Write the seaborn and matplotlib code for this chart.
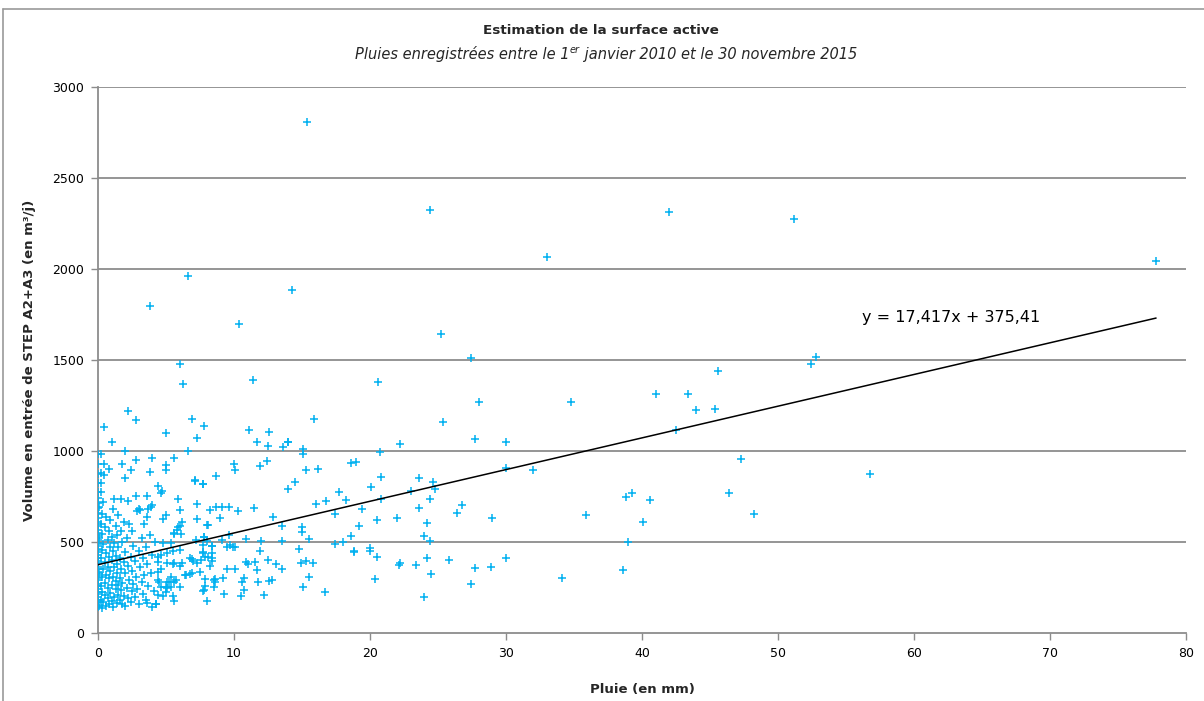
import numpy as np
import pandas as pd
import matplotlib
matplotlib.use("Agg")
import matplotlib.pyplot as plt
import seaborn as sns
from matplotlib.lines import Line2D

# ---------------- data ----------------
# dry days (0 mm)
volume_sec = [143, 152, 168, 181, 197, 214, 226, 243, 258, 271, 289, 302, 318, 333,
              351, 364, 382, 397, 410, 428, 445, 461, 478, 497, 512, 531, 548, 566,
              589, 612, 634, 661, 688, 716, 742, 776, 822, 871, 930, 982]
pluie_sec = [0.0] * len(volume_sec)

# light rain, 0.1 - 1.5 mm
pluie_faible = [0.1, 0.1, 0.1, 0.1, 0.2, 0.2, 0.2, 0.2, 0.2, 0.2, 0.2, 0.2, 0.3, 0.3, 0.3,
                0.3, 0.3, 0.3, 0.4, 0.4, 0.4, 0.4, 0.43, 0.46, 0.46, 0.5, 0.5, 0.5, 0.5,
                0.6, 0.6, 0.6, 0.6, 0.7, 0.7, 0.7, 0.7, 0.8, 0.8, 0.8, 0.8, 0.83, 0.9, 0.9,
                0.9, 0.9, 1.0, 1.0, 1.0, 1.0, 1.05, 1.1, 1.1, 1.1, 1.1, 1.2, 1.2, 1.2, 1.2,
                1.3, 1.3, 1.3, 1.3, 1.4, 1.4, 1.4, 1.4, 1.5, 1.5, 1.5, 1.5]
volume_faible = [150, 330, 520, 690, 180, 260, 410, 600, 822, 776, 877, 984, 140, 225, 305,
                 455, 545, 655, 170, 350, 490, 720, 1134, 930, 870, 210, 275, 390, 580,
                 150, 320, 440, 640, 190, 250, 365, 510, 160, 300, 420, 560, 903, 220, 340,
                 470, 620, 175, 265, 400, 530, 1048, 145, 310, 450, 680, 200, 360, 495, 738,
                 240, 285, 425, 590, 165, 330, 380, 540, 210, 265, 470, 650]

# moderate rain, 1.6 - 4.8 mm
pluie_moyenne = [1.6, 1.6, 1.6, 1.67, 1.7, 1.7, 1.7, 1.8, 1.8, 1.8, 1.8, 1.9, 1.9, 1.9, 2.0,
                 2.0, 2.0, 2.0, 2.0, 2.1, 2.1, 2.2, 2.2, 2.2, 2.23, 2.3, 2.3, 2.4, 2.4, 2.4,
                 2.5, 2.5, 2.5, 2.6, 2.6, 2.7, 2.7, 2.8, 2.8, 2.8, 2.8, 2.9, 2.9, 3.0, 3.0,
                 3.0, 3.1, 3.1, 3.2, 3.2, 3.3, 3.3, 3.4, 3.4, 3.5, 3.5, 3.6, 3.6, 3.6, 3.6,
                 3.7, 3.7, 3.8, 3.8, 3.8, 3.9, 3.9, 4.0, 4.0, 4.0, 4.0, 4.1, 4.2, 4.3, 4.4,
                 4.6, 4.7, 4.8]
volume_moyenne = [180, 300, 410, 738, 235, 350, 560, 930, 160, 275, 500, 205, 390, 610, 1000,
                  853, 150, 330, 445, 250, 520, 727, 190, 370, 1220, 290, 600, 896, 170, 420,
                  230, 340, 560, 480, 270, 200, 395, 1170, 949, 753, 310, 672, 240, 683, 158,
                  450, 676, 360, 280, 520, 215, 410, 600, 320, 180, 470, 753, 639, 167, 380,
                  680, 260, 1797, 885, 540, 694, 330, 963, 703, 145, 430, 230, 500, 160, 808,
                  768, 780, 625]

# heavier rain, > 4.3 mm
pluie_forte = [15.4, 24.4, 42.0, 51.2, 77.8, 33.0, 6.6, 14.3, 10.35, 25.2, 27.4, 6.0, 6.25,
               11.4, 20.6, 52.8, 52.4, 45.6, 34.8, 41.0, 43.4, 44.0, 45.4, 42.5, 32.0, 47.3,
               39.3, 38.8, 40.6, 46.4, 35.9, 40.1, 48.2, 39.0, 38.6, 34.1, 56.8,
               28.0, 15.9, 25.4, 14.0, 13.6, 15.1, 15.1, 22.2, 27.7, 30.0, 30.0, 20.7, 18.6,
               19.0, 15.3, 16.15, 20.8, 14.0, 14.5, 17.7, 20.1, 23.6, 24.6, 24.8, 23.0, 16.0,
               16.8, 18.2, 20.8, 24.4, 19.4, 17.4, 23.6, 26.8, 26.4, 29.0, 13.5, 15.0, 15.0,
               20.5, 22.0, 24.2, 19.2, 13.5, 15.5, 18.6, 18.0, 17.4, 24.0, 24.4, 14.8, 18.8,
               18.8, 20.0, 20.0, 20.5, 14.9, 15.3, 15.8, 22.1, 22.2, 23.4, 24.2, 25.8, 27.7,
               28.9, 30.0, 24.5, 20.4, 15.5, 15.05, 16.7, 27.4, 24.0,
               6.9, 7.8, 5.0, 7.25, 11.1, 12.6, 11.7, 12.5, 10.0, 10.1, 12.4, 11.9, 7.1, 7.7,
               8.7, 5.9, 7.3, 5.0, 6.0, 7.3, 8.2, 8.7, 9.1, 9.6, 10.3, 11.5, 9.0, 8.1, 6.0,
               6.1, 5.6, 12.9, 10.85, 7.8, 9.6, 9.7, 9.1, 8.4, 9.5, 9.9, 10.1, 12.0, 11.9,
               6.9, 7.0, 7.3, 7.7, 7.9, 8.4, 5.1, 5.6, 6.2, 4.6, 4.4, 10.9, 11.0, 11.55, 11.7,
               12.5, 13.1, 13.5, 9.5, 10.05, 6.8, 6.5, 7.5, 9.2, 8.6, 8.6, 7.9, 7.8, 10.7,
               10.6, 10.7, 11.8, 12.6, 12.8, 12.2, 10.55, 9.25, 8.0, 5.6, 5.6, 5.2, 5.0, 4.5,
               5.0, 5.5, 4.8, 4.3, 5.6,
               7.1, 7.7, 6.2, 8.0, 5.9, 5.8, 5.4, 4.8, 7.2, 7.8, 8.0, 6.0, 5.5, 5.1, 4.6,
               4.4, 7.7, 7.7, 8.4, 8.4, 6.8, 7.6, 8.1, 8.2, 8.35, 5.5, 6.0, 4.4, 6.4, 6.9,
               5.4, 5.7, 5.05, 5.05, 5.4, 6.0, 4.4, 4.6, 4.4, 7.9, 7.7, 8.5, 8.5, 5.0, 5.0,
               5.6, 6.6, 14.0]
volume_forte = [2807, 2325, 2315, 2272, 2046, 2068, 1963, 1883, 1698, 1641, 1511, 1480, 1370,
                1388, 1379, 1518, 1476, 1441, 1268, 1311, 1315, 1225, 1229, 1115, 896, 954,
                769, 745, 729, 769, 647, 608, 652, 502, 346, 300, 874,
                1271, 1174, 1159, 1050, 1020, 1009, 985, 1038, 1066, 1049, 908, 996, 932,
                940, 894, 903, 859, 789, 828, 775, 802, 850, 831, 793, 782, 707,
                727, 732, 738, 734, 681, 654, 685, 703, 661, 630, 586, 581, 553,
                623, 630, 606, 588, 507, 515, 535, 502, 487, 531, 505, 462, 451,
                443, 467, 451, 416, 386, 396, 385, 372, 385, 375, 414, 401, 359,
                364, 412, 326, 298, 306, 253, 227, 269, 196,
                1176, 1135, 1097, 1071, 1115, 1104, 1048, 1029, 927, 894, 947, 916, 842, 817,
                861, 736, 709, 648, 678, 625, 676, 690, 690, 694, 672, 689, 630, 592, 590,
                542, 544, 636, 516, 529, 538, 482, 509, 480, 474, 474, 474, 507, 449,
                408, 395, 383, 441, 416, 410, 385, 385, 385, 350, 337, 388, 378, 388, 348,
                401, 381, 352, 353, 350, 322, 317, 333, 304, 295, 280, 295, 236, 302,
                279, 238, 282, 286, 293, 209, 202, 213, 178, 178, 280, 280, 254, 280,
                228, 205, 203, 160, 962,
                837, 819, 612, 593, 584, 566, 496, 496, 511, 526, 505, 456, 452, 441, 429,
                416, 482, 443, 478, 441, 410, 401, 416, 368, 397, 379, 368, 392, 319, 331,
                309, 291, 282, 245, 251, 251, 291, 254, 209, 258, 232, 291, 254, 925, 894,
                548, 1000, 1049]

# linear trend (Excel)
pente = 17.417
ordonnee = 375.41

x_ticks = [0, 10, 20, 30, 40, 50, 60, 70, 80]
y_ticks = [0, 500, 1000, 1500, 2000, 2500, 3000]

titre = "Estimation de la surface active"
xlabel = "Pluie (en mm)"
ylabel = "Volume en entrée de STEP A2+A3 (en m³/j)"
equation = "y = 17,417x + 375,41"

# ---------------- build frame ----------------
df = pd.DataFrame({
    "pluie": pluie_sec + pluie_faible + pluie_moyenne + pluie_forte,
    "volume": volume_sec + volume_faible + volume_moyenne + volume_forte,
})
xmin, xmax = df["pluie"].min(), df["pluie"].max()
trend = pd.DataFrame({"pluie": [xmin, xmax]})
trend["volume"] = pente * trend["pluie"] + ordonnee

sns.set_theme(style="white")
plt.rcParams["font.family"] = ["DejaVu Sans"]

W, H = 1204, 701
fig = plt.figure(figsize=(W / 100, H / 100), dpi=100)
ax = fig.add_axes([98 / W, 1 - 633 / H, (1186 - 98) / W, (633 - 87) / H])

grid_c = "#8c8c8c"
for yv in y_ticks[1:]:
    ax.axhline(yv, color=grid_c, lw=1.3, zorder=0)

sns.scatterplot(data=df, x="pluie", y="volume", marker="+", color="#00B0F0",
                s=30, linewidth=1.1, ax=ax, zorder=3, legend=False)
sns.lineplot(data=trend, x="pluie", y="volume", color="black", lw=1.1, ax=ax, zorder=4)

ax.set_xlim(0, 80)
ax.set_ylim(0, 3000)
ax.set_xticks(x_ticks)
ax.set_yticks(y_ticks)
ax.set_xticklabels([str(v) for v in x_ticks], fontsize=9)
ax.set_yticklabels([str(v) for v in y_ticks], fontsize=9)
ax.tick_params(axis="both", direction="out", length=5, width=1, color=grid_c,
               pad=5, labelcolor="black", left=True, bottom=True)
for side in ["top", "right"]:
    ax.spines[side].set_visible(False)
for side in ["left", "bottom"]:
    ax.spines[side].set_color(grid_c)
    ax.spines[side].set_linewidth(1.3)

ax.set_xlabel("")
ax.set_ylabel("")
fig.text(642 / W, 1 - 690 / H, xlabel, ha="center", va="center",
         fontsize=9.5, fontweight="bold")
fig.text(30 / W, 1 - 360 / H, ylabel, ha="center", va="center", rotation=90,
         fontsize=9.5, fontweight="bold")

ax.text(56.2, 1731, equation, ha="left", va="center", fontsize=11.5, color="black")

# title and subtitle
fig.text(601 / W, 1 - 31 / H, titre, ha="center", va="center", fontsize=9.7,
         fontweight="bold")
renderer = fig.canvas.get_renderer()
sub_parts = ["Pluies enregistrées entre le 1", "er", " janvier 2010 et le 30 novembre 2015"]
sizes = [10.5, 7, 10.5]
widths = []
for txt, fs in zip(sub_parts, sizes):
    t = fig.text(0, 0, txt, fontsize=fs, style="italic")
    widths.append(t.get_window_extent(renderer).width)
    t.remove()
total = sum(widths)
x0 = 606 - total / 2
ybase = 1 - 59 / H
for i, (txt, fs) in enumerate(zip(sub_parts, sizes)):
    yy = ybase + (6 / H if i == 1 else 0)
    fig.text(x0 / W, yy, txt, fontsize=fs, style="italic", ha="left", va="baseline")
    x0 += widths[i]

# chart frame (Excel chart area border)
fig.add_artist(Line2D([3 / W, 3 / W], [0, 1 - 9 / H], color="#9a9a9a", lw=1.2,
                      transform=fig.transFigure))
fig.add_artist(Line2D([3 / W, 1], [1 - 9 / H, 1 - 9 / H], color="#9a9a9a", lw=1.2,
                      transform=fig.transFigure))

fig.savefig("out.png", dpi=100, facecolor="white")
